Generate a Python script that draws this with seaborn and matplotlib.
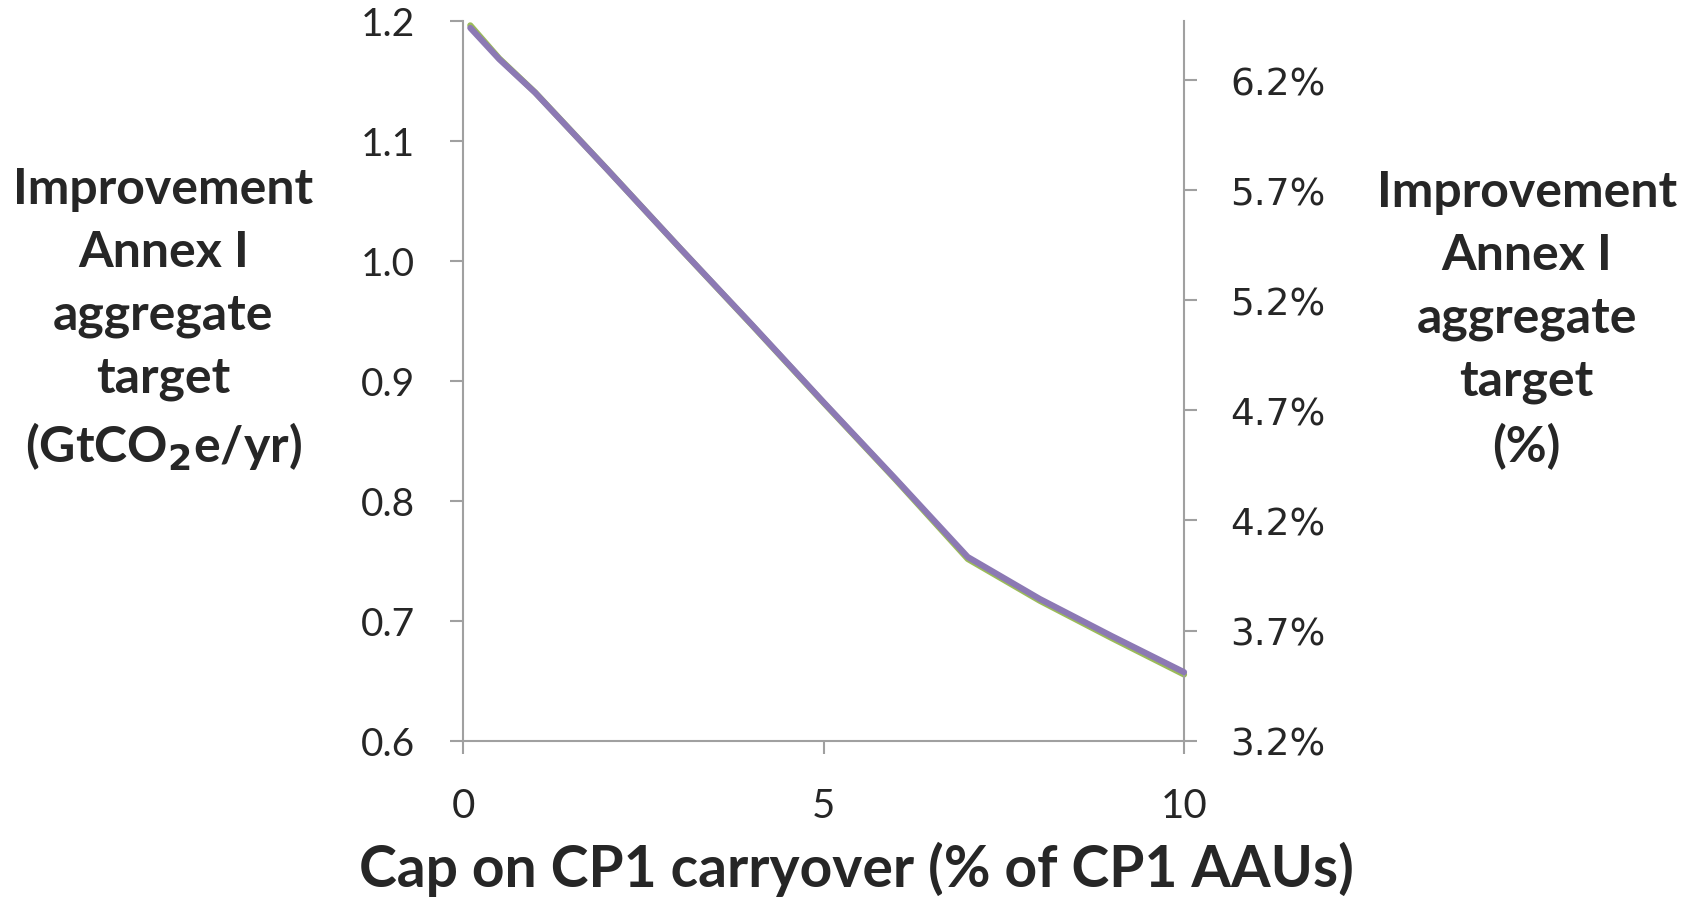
import pandas as pd
import matplotlib.pyplot as plt
import seaborn as sns

# data
cap_pct = [0.1, 0.5, 1, 2, 3, 4, 5, 6, 7, 8, 9, 10]
improvement_gt = [1.194, 1.168, 1.140, 1.076, 1.011, 0.947, 0.882, 0.818, 0.753, 0.718, 0.687, 0.657]
improvement_pct = [6.45, 6.30, 6.145, 5.795, 5.44, 5.09, 4.735, 4.385, 4.025, 3.835, 3.665, 3.50]

x_ticks = [0, 5, 10]
left_ticks = [0.6, 0.7, 0.8, 0.9, 1.0, 1.1, 1.2]
right_ticks = [3.2, 3.7, 4.2, 4.7, 5.2, 5.7, 6.2]
right_labels = ['3.2%', '3.7%', '4.2%', '4.7%', '5.2%', '5.7%', '6.2%']

df = pd.DataFrame({'cap': cap_pct, 'gt': improvement_gt, 'pct': improvement_pct})

sns.set_style('white')
plt.rcParams['font.family'] = ['Lato', 'DejaVu Sans']

grey = '#A0A0A0'
purple = '#8C79B4'
green = '#9BBB59'

fig = plt.figure(figsize=(17, 9.04), dpi=100)
ax = fig.add_axes([0.2724, 0.1797, 0.4241, 0.7963])
ax2 = ax.twinx()

sns.lineplot(data=df, x='cap', y='pct', ax=ax2, color=green, linewidth=4.4, clip_on=False)
sns.lineplot(data=df, x='cap', y='gt', ax=ax, color=purple, linewidth=4.4, clip_on=False)
# purple series sits on top of the green one
ax.set_zorder(ax2.get_zorder() + 1)
ax.patch.set_visible(False)

ax.set_xlim(0, 10)
ax.set_ylim(0.6, 1.2)
ax2.set_ylim(3.2, 6.471)

ax.set_xticks(x_ticks)
ax.set_xticklabels([str(t) for t in x_ticks])
ax.set_yticks(left_ticks)
ax.set_yticklabels([f'{t:.1f}' for t in left_ticks])
ax2.set_yticks(right_ticks)
ax2.set_yticklabels(right_labels, family='DejaVu Sans')

for a in (ax, ax2):
    for s in a.spines.values():
        s.set_visible(False)
        s.set_color(grey)
        s.set_linewidth(1.5)
ax.spines['left'].set_visible(True)
ax.spines['bottom'].set_visible(True)
ax2.spines['right'].set_visible(True)

ax.tick_params(axis='y', direction='out', length=9.5, width=1.5, color=grey,
               labelsize=28, pad=25, left=True)
ax.tick_params(axis='x', direction='out', length=9.5, width=1.5, color=grey,
               labelsize=29, pad=24, bottom=True)
ax2.tick_params(axis='y', direction='out', length=9.5, width=1.5, color=grey,
                labelsize=27, pad=24, right=True)

ax.set_xlabel('')
ax.set_ylabel('')
ax2.set_ylabel('')

fig.text(0.5035, 0.019, 'Cap on CP1 carryover (% of CP1 AAUs)', ha='center', va='baseline',
         fontsize=41, fontweight='bold')
fig.text(0.096, 0.646, 'Improvement\nAnnex I\naggregate\ntarget\n(GtCO$_\\mathbf{2}$e/yr)',
         ha='center', va='center', fontsize=36, fontweight='bold', linespacing=1.48)
fig.text(0.898, 0.646, 'Improvement\nAnnex I\naggregate\ntarget\n(%)',
         ha='center', va='center', fontsize=36, fontweight='bold', linespacing=1.48)

plt.savefig('out.png', dpi=100)
